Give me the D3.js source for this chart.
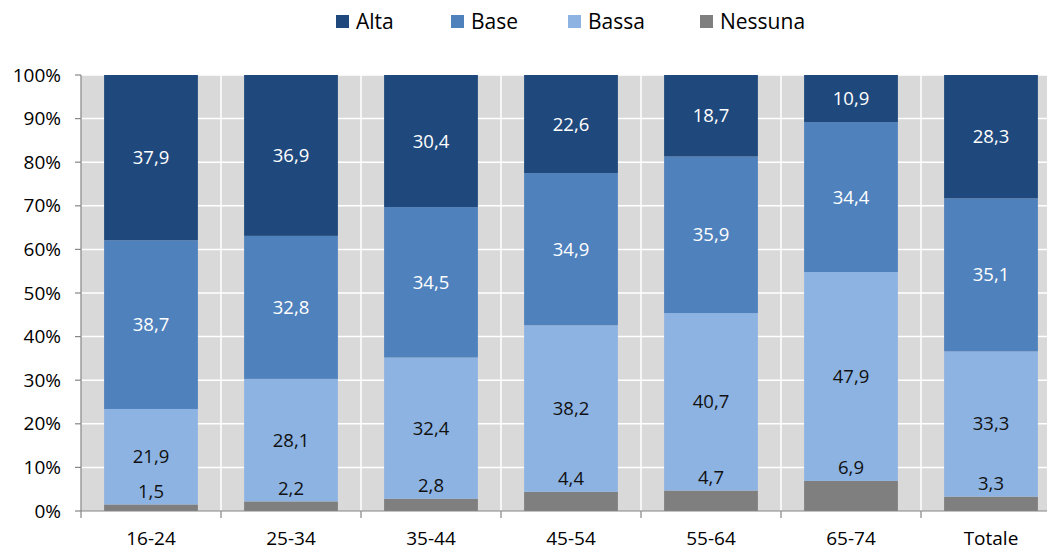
<!DOCTYPE html>
<html><head><meta charset="utf-8">
<script src="https://cdn.jsdelivr.net/npm/d3@7"></script>
<style>body{margin:0;background:#fff;overflow:hidden}svg{display:block}</style>
</head><body>
<script>
const categories = ["16-24","25-34","35-44","45-54","55-64","65-74","Totale"];
const seriesNames = ["Nessuna","Bassa","Base","Alta"];
const nessuna = [1.5,2.2,2.8,4.4,4.7,6.9,3.3];
const bassa = [21.9,28.1,32.4,38.2,40.7,47.9,33.3];
const base = [38.7,32.8,34.5,34.9,35.9,34.4,35.1];
const alta = [37.9,36.9,30.4,22.6,18.7,10.9,28.3];
const yTicks = [0,10,20,30,40,50,60,70,80,90,100];
const colors = {Alta:"#1f497d",Base:"#4f81bd",Bassa:"#8db3e2",Nessuna:"#7f7f7f"};
const labelColors = {Alta:"#fff",Base:"#fff",Bassa:"#111",Nessuna:"#111"};
const legendOrder = ["Alta","Base","Bassa","Nessuna"];

const W=1047,H=551;
const m={left:81,top:75,bottom:40};
const plotW=140*7, y0=511;
const font="'Open Sans', sans-serif";
const svg=d3.select("body").append("svg").attr("width",W).attr("height",H);
const x=d3.scaleBand().domain(categories).range([m.left,m.left+plotW]).paddingInner(0.33).paddingOuter(0.165);
const xb=d3.scaleBand().domain(categories).range([m.left,m.left+plotW]);
const y=d3.scaleLinear().domain([0,100]).range([y0,m.top]);

svg.append("rect").attr("x",m.left).attr("y",m.top).attr("width",plotW).attr("height",y0-m.top).attr("fill","#d9d9d9");
svg.append("g").selectAll("line").data(yTicks.slice(1)).join("line")
 .attr("x1",m.left).attr("x2",m.left+plotW).attr("y1",d=>y(d)).attr("y2",d=>y(d)).attr("stroke","#fff").attr("stroke-width",1.5);
svg.append("g").selectAll("line").data(categories.slice(1)).join("line")
 .attr("x1",d=>xb(d)).attr("x2",d=>xb(d)).attr("y1",m.top).attr("y2",y0).attr("stroke","#fff").attr("stroke-width",1.5);

const rows=categories.map((c,i)=>({cat:c,Nessuna:nessuna[i],Bassa:bassa[i],Base:base[i],Alta:alta[i]}));
const stacked=d3.stack().keys(seriesNames)(rows);
const gBars=svg.append("g"), gLab=svg.append("g");
stacked.forEach(s=>{
  gBars.selectAll(null).data(s).join("rect")
   .attr("x",d=>x(d.data.cat)).attr("width",x.bandwidth())
   .attr("y",d=>y(Math.min(100,d[1]))).attr("height",d=>y(d[0])-y(Math.min(100,d[1])))
   .attr("fill",colors[s.key]);
  gLab.selectAll(null).data(s).join("text")
   .attr("x",d=>x(d.data.cat)+x.bandwidth()/2)
   .attr("y",d=> s.key==="Nessuna" ? y(d[1])-13 : (y(d[0])+y(Math.min(100,d[1])))/2)
   .attr("dy","0.35em").attr("text-anchor","middle")
   .attr("font-family",font).attr("font-size",18.5).attr("fill",labelColors[s.key])
   .text(d=>d3.format(".1f")(d.data[s.key]).replace(".",","));
});

// axes
const ax=svg.append("g").attr("stroke","#868686").attr("stroke-width",1.2);
ax.append("line").attr("x1",m.left).attr("x2",m.left).attr("y1",m.top).attr("y2",y0);
ax.append("line").attr("x1",m.left).attr("x2",m.left+plotW).attr("y1",y0).attr("y2",y0);
ax.selectAll(null).data(yTicks).join("line").attr("x1",m.left-6).attr("x2",m.left).attr("y1",d=>y(d)).attr("y2",d=>y(d));
ax.selectAll(null).data(categories.map(c=>xb(c)).concat([m.left+plotW])).join("line").attr("x1",d=>d).attr("x2",d=>d).attr("y1",y0).attr("y2",y0+7);

svg.append("g").selectAll("text").data(yTicks).join("text")
 .attr("x",61).attr("y",d=>y(d)).attr("dy","0.35em").attr("text-anchor","end")
 .attr("font-family",font).attr("font-size",19).attr("fill","#000").text(d=>d+"%");
svg.append("g").selectAll("text").data(categories).join("text")
 .attr("x",d=>xb(d)+xb.bandwidth()/2).attr("y",538).attr("dy","0.35em").attr("text-anchor","middle")
 .attr("font-family",font).attr("font-size",19).attr("fill","#000").text(d=>d);

// legend
const legX=[336,451,568,700];
const lg=svg.append("g");
legendOrder.forEach((k,i)=>{
  lg.append("rect").attr("x",legX[i]).attr("y",15).attr("width",13).attr("height",13).attr("fill",colors[k]);
  lg.append("text").attr("x",legX[i]+20).attr("y",21.5).attr("dy","0.35em").attr("font-family",font).attr("font-size",21).attr("fill","#000").text(k);
});
</script>
</body></html>
